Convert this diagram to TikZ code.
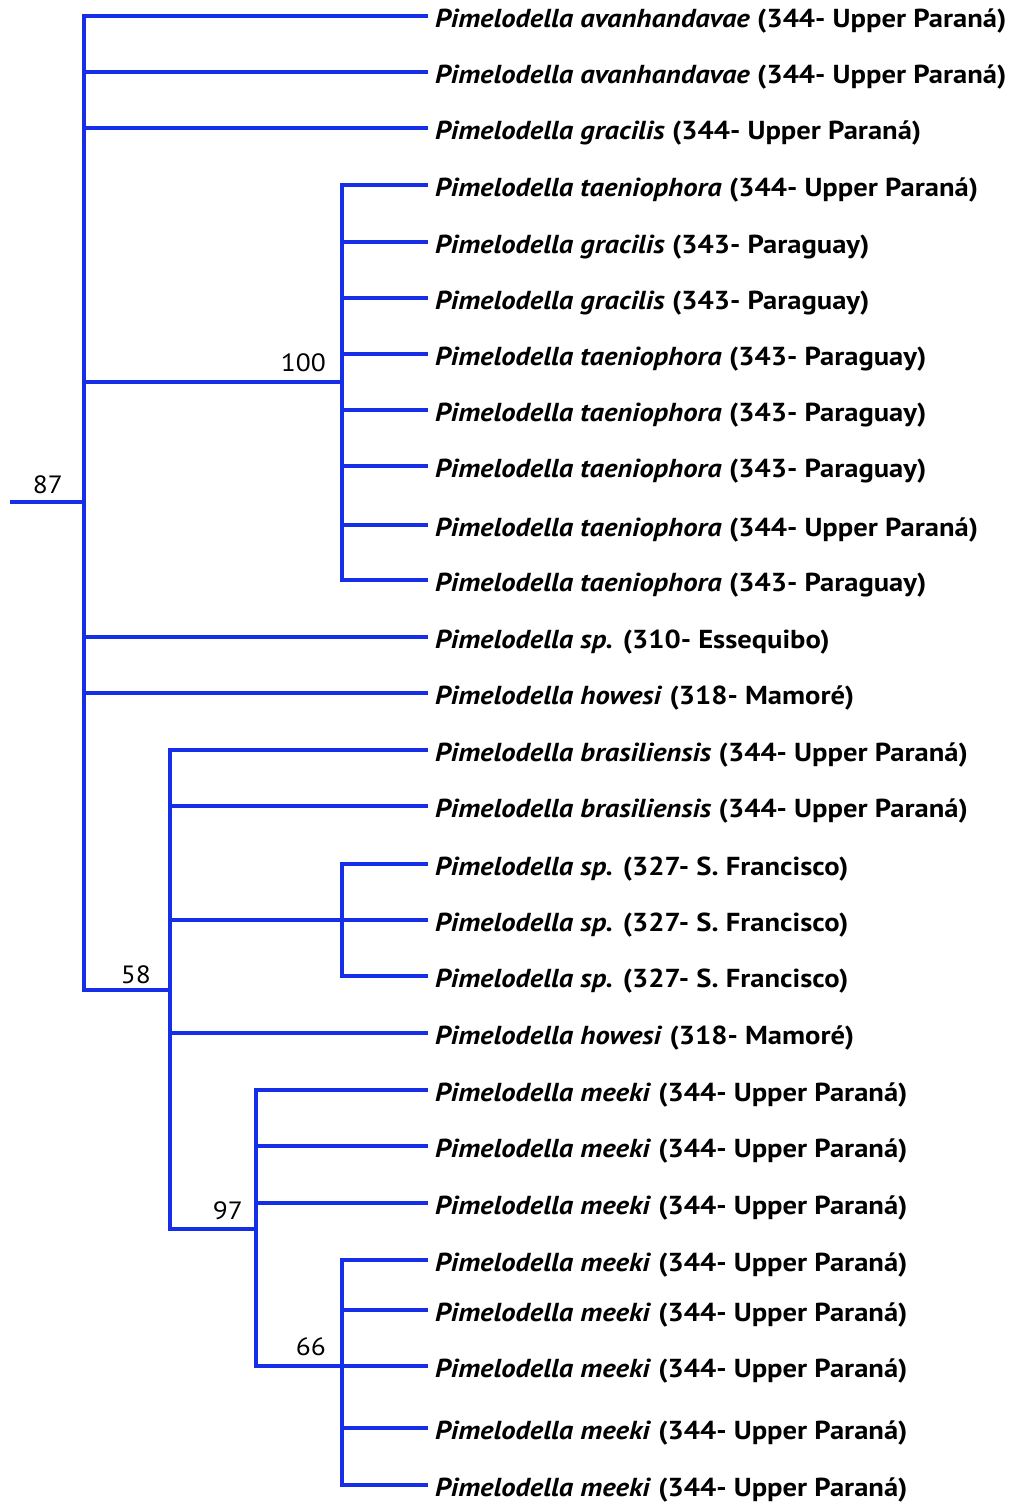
\documentclass[tikz,border=0pt]{standalone}
\usepackage{fontspec}
\setmainfont{PT Sans}[FakeStretch=1.1]
\definecolor{treeblue}{RGB}{22,46,232}
\begin{document}
\begin{tikzpicture}[x=1pt,y=-1pt,
  branch/.style={draw=treeblue,line width=3.2pt,line join=miter},
  taxon/.style={anchor=base west,inner sep=0pt,font=\fontsize{26}{30}\selectfont\bfseries},
  support/.style={anchor=base east,inner sep=0pt,font=\fontsize{25}{30}\selectfont}]
\useasboundingbox (0,0) rectangle (1015,1505);

% leaf tips and their labels
\foreach \i/\y/\sp/\loc in {
  1/16/avanhandavae/344- Upper Paraná,
  2/72/avanhandavae/344- Upper Paraná,
  3/128/gracilis/344- Upper Paraná,
  4/185/taeniophora/344- Upper Paraná,
  5/242/gracilis/343- Paraguay,
  6/298/gracilis/343- Paraguay,
  7/354/taeniophora/343- Paraguay,
  8/410/taeniophora/343- Paraguay,
  9/466/taeniophora/343- Paraguay,
  10/525/taeniophora/344- Upper Paraná,
  11/580/taeniophora/343- Paraguay,
  12/637/sp./310- Essequibo,
  13/693/howesi/318- Mamoré,
  14/750/brasiliensis/344- Upper Paraná,
  15/806/brasiliensis/344- Upper Paraná,
  16/864/sp./327- S. Francisco,
  17/920/sp./327- S. Francisco,
  18/976/sp./327- S. Francisco,
  19/1033/howesi/318- Mamoré,
  20/1090/meeki/344- Upper Paraná,
  21/1146/meeki/344- Upper Paraná,
  22/1203/meeki/344- Upper Paraná,
  23/1260/meeki/344- Upper Paraná,
  24/1310/meeki/344- Upper Paraná,
  25/1366/meeki/344- Upper Paraná,
  26/1428/meeki/344- Upper Paraná,
  27/1485/meeki/344- Upper Paraná}{
  \coordinate (e\i) at (428,\y);
  \node[taxon] (t\i) at (435,\y+11) {\textit{Pimelodella \sp} (\loc)};
}

% internal nodes (vertical bar x, junction y)
\coordinate (stem) at (10,502);
\coordinate (r) at (84,502);
\coordinate (A) at (342,382);
\coordinate (B) at (170,990);
\coordinate (C) at (342,920);
\coordinate (D) at (256,1229);
\coordinate (E) at (342,1366);

% branches
\draw[branch] (stem) -- (r);
\foreach \c in {e1,e2,e3,A,e12,e13,B} \draw[branch] (r) |- (\c);
\foreach \c in {e4,e5,e6,e7,e8,e9,e10,e11} \draw[branch] (A) |- (\c);
\foreach \c in {e14,e15,C,e19,D} \draw[branch] (B) |- (\c);
\foreach \c in {e16,e17,e18} \draw[branch] (C) |- (\c);
\foreach \c in {e20,e21,e22,E} \draw[branch] (D) |- (\c);
\foreach \c in {e23,e24,e25,e26,e27} \draw[branch] (E) |- (\c);

% bootstrap support
\node[support] (s87) at (63,493) {87};
\node[support] (s100) at (326,371) {100};
\node[support] (s58) at (151,983) {58};
\node[support] (s97) at (243,1219) {97};
\node[support] (s66) at (326,1355) {66};
\end{tikzpicture}
\end{document}
